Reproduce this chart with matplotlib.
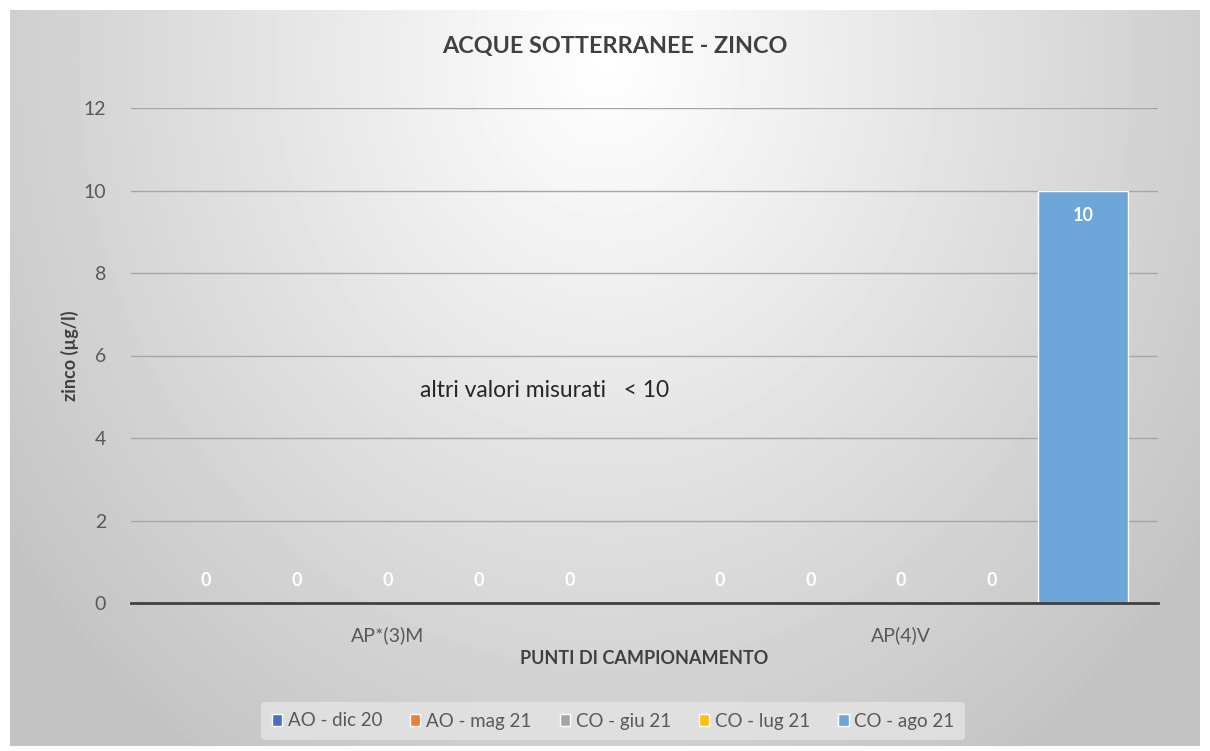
import matplotlib.pyplot as plt
import numpy as np

# data
categories = ["AP*(3)M", "AP(4)V"]
series_names = ["AO - dic 20", "AO - mag 21", "CO - giu 21", "CO - lug 21", "CO - ago 21"]
ao_dic20 = [0, 0]
ao_mag21 = [0, 0]
co_giu21 = [0, 0]
co_lug21 = [0, 0]
co_ago21 = [0, 10]
series_values = [ao_dic20, ao_mag21, co_giu21, co_lug21, co_ago21]
colors = ["#4472C4", "#ED7D31", "#A5A5A5", "#FFC000", "#6FA6DA"]
y_ticks = [0, 2, 4, 6, 8, 10, 12]

plt.rcParams['font.family'] = ['Lato', 'DejaVu Sans']

fig = plt.figure(figsize=(12.1, 7.51), dpi=100)
fig.patch.set_facecolor('white')

# radial grey background of the chart area
bg = fig.add_axes([10 / 1210, 5 / 751, 1190 / 1210, 736 / 751])
h, w = 736, 1190
yy, xx = np.mgrid[0:h, 0:w]
dx = (xx - w / 2) / (w / 2)
dy = (yy - 50) / (h - 50)
r = np.sqrt(dx ** 2 + dy ** 2)
shade = 1 - 0.19 * np.clip(r, 0, 1.25)
bg.imshow(shade, cmap='gray', vmin=0, vmax=1, aspect='auto', interpolation='bilinear')
bg.set_axis_off()

ax = fig.add_axes([131 / 1210, 1 - 603 / 751, 1027 / 1210, 495 / 751])
ax.set_facecolor('none')

x = np.arange(len(categories))
n = len(series_names)
width = 0.177
for i, (name, vals, c) in enumerate(zip(series_names, series_values, colors)):
    pos = x + (i - (n - 1) / 2) * width
    bars = ax.bar(pos, vals, width, color=c, edgecolor='white', linewidth=1, label=name, zorder=3)
    for b, v in zip(bars, vals):
        if v > 0:
            ax.annotate(f"{v:g}", (b.get_x() + b.get_width() / 2, v), xytext=(0, -18),
                        textcoords='offset points', ha='center', va='center',
                        color='white', fontsize=13, fontweight='bold', zorder=4)
        else:
            ax.annotate(f"{v:g}", (b.get_x() + b.get_width() / 2, v), xytext=(0, 16),
                        textcoords='offset points', ha='center', va='center',
                        color='white', fontsize=13, fontweight='bold', zorder=4)

ax.set_xlim(-0.5, 1.5)
ax.set_ylim(0, 12)
ax.set_yticks(y_ticks)
ax.set_xticks(x)
ax.set_xticklabels(categories)
ax.tick_params(axis='both', length=0, labelsize=14, labelcolor='#595959')
ax.tick_params(axis='x', pad=17)
ax.tick_params(axis='y', pad=18)
ax.grid(axis='y', color='#a6a6a6', linewidth=1, zorder=0)
for s in ['top', 'right', 'left']:
    ax.spines[s].set_visible(False)
ax.spines['bottom'].set_color('#404040')
ax.spines['bottom'].set_linewidth(2)
ax.spines['bottom'].set_zorder(5)

ax.set_ylabel("zinco (µg/l)", fontsize=13, fontweight='bold', color='#404040', labelpad=3)
ax.set_xlabel("PUNTI DI CAMPIONAMENTO", fontsize=13, fontweight='bold', color='#404040', labelpad=4)

fig.text(615 / 1210, 1 - 47 / 751, "ACQUE SOTTERRANEE - ZINCO", ha='center', va='center',
         fontsize=16.8, fontweight='bold', color='#404040')

ax.text(0.063, 5.16, "altri valori misurati   < 10", fontsize=16.5, color='#262626',
        ha='left', va='center')

leg = fig.legend(loc='center', bbox_to_anchor=(613 / 1210, 1 - 721 / 751), ncol=5,
                 frameon=True, fontsize=13.5, handlelength=0.55, handleheight=0.55,
                 handletextpad=0.3, columnspacing=1.5, borderpad=0.55)
leg.get_frame().set_facecolor('#e4e4e4')
leg.get_frame().set_edgecolor('none')
leg.get_frame().set_alpha(0.8)
for t in leg.get_texts():
    t.set_color('#595959')

fig.savefig("out.png", dpi=100)
